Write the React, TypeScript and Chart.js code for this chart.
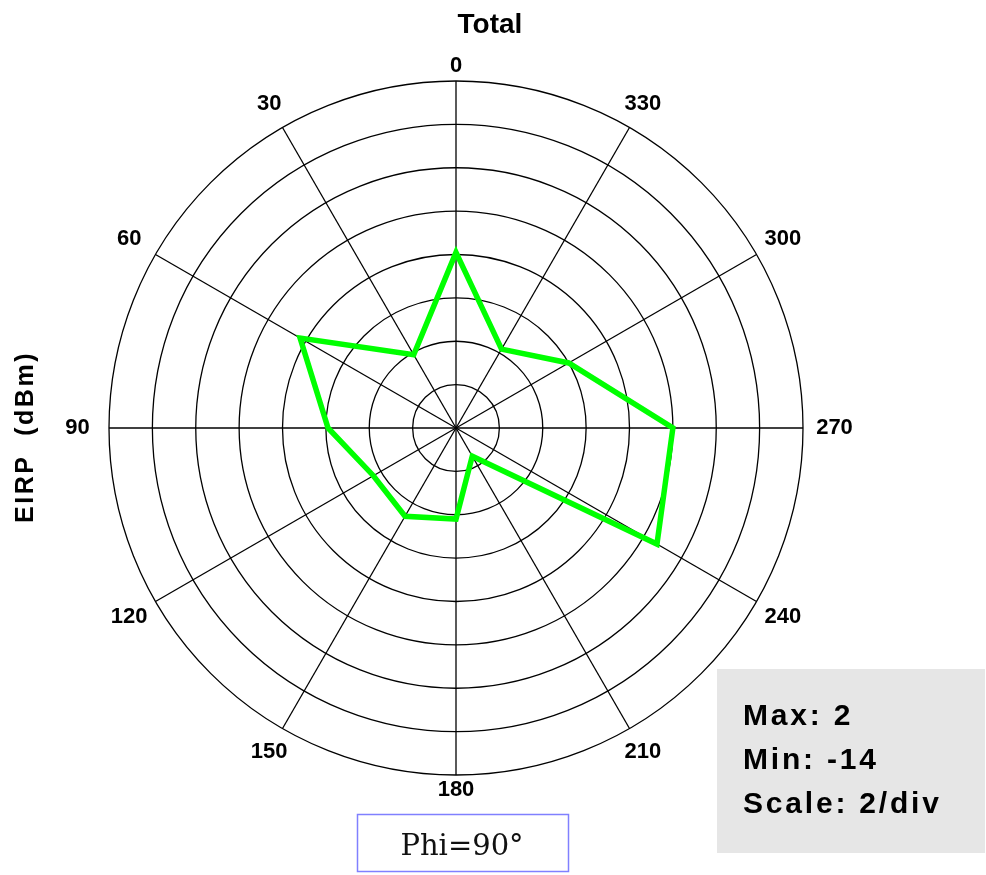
import { useEffect, useRef } from 'react';
import { Chart, registerables } from 'chart.js';

Chart.register(...registerables);

// Angles (degrees, counter-clockwise from top) and EIRP values (dBm)
const angleLabels = ['0', '30', '60', '90', '120', '150', '180', '210', '240', '270', '300', '330'];
const eirpValues = [-5.9, -10.1, -5.7, -8.1, -9.6, -9.3, -9.8, -12.5, -3.3, -4.0, -8.0, -9.8];

const scaleMin = -14;
const scaleMax = 2;
const scaleStep = 2;

const chartTitle = 'Total';
const axisTitle = 'EIRP  (dBm)';
const statLines = ['Max: 2', 'Min: -14', 'Scale: 2/div'];
const phiLabel = 'Phi=90°';

const SANS = '"Liberation Sans", Arial, sans-serif';

const overlayPlugin = {
  id: 'overlay',
  afterDraw(chart: any) {
    const ctx: CanvasRenderingContext2D = chart.ctx;
    const r = chart.scales.r;
    ctx.save();
    ctx.fillStyle = '#000';

    // angle labels around the circle
    ctx.font = `bold 22px ${SANS}`;
    ctx.textAlign = 'center';
    ctx.textBaseline = 'middle';
    (chart.data.labels as string[]).forEach((lbl, i) => {
      const a = r.getIndexAngle(i);
      const s = Math.abs(Math.sin(a));
      const p = r.getPointPosition(i, r.drawingArea + 15 + 16.5 * Math.sqrt(s));
      ctx.fillText(lbl, p.x, p.y);
    });

    // title
    ctx.textBaseline = 'alphabetic';
    ctx.font = `bold 28px ${SANS}`;
    ctx.fillText(chartTitle, 490, 33);

    // vertical axis title
    ctx.save();
    ctx.translate(33, 437);
    ctx.rotate(-Math.PI / 2);
    ctx.font = `bold 25px ${SANS}`;
    (ctx as any).letterSpacing = '2.5px';
    ctx.textAlign = 'center';
    ctx.fillText(axisTitle, 0, 0);
    ctx.restore();

    // stats box
    ctx.fillStyle = '#e6e6e6';
    ctx.fillRect(717, 669, 268, 184);
    ctx.fillStyle = '#000';
    ctx.font = `bold 30px ${SANS}`;
    (ctx as any).letterSpacing = '2.8px';
    ctx.textAlign = 'left';
    statLines.forEach((t, i) => ctx.fillText(t, 743, 725 + i * 44));
    (ctx as any).letterSpacing = '0px';

    // phi box
    ctx.strokeStyle = '#8080ff';
    ctx.lineWidth = 1.5;
    ctx.strokeRect(357.5, 814.5, 211, 57);
    ctx.font = '29px "DejaVu Serif", serif';
    ctx.textAlign = 'center';
    ctx.fillStyle = '#111';
    ctx.fillText(phiLabel, 462, 855);

    ctx.restore();
  },
};

export default function App() {
  const ref = useRef<HTMLCanvasElement>(null);

  useEffect(() => {
    const canvas = ref.current;
    if (!canvas) return;
    // radar draws clockwise from the top; the reference runs counter-clockwise
    const order = [0, ...angleLabels.map((_, i) => i).slice(1).reverse()];
    const chart = new Chart(canvas, {
      type: 'radar',
      data: {
        labels: order.map((i) => angleLabels[i]),
        datasets: [
          {
            data: order.map((i) => eirpValues[i]),
            borderColor: 'rgb(0,255,0)',
            borderWidth: 5.5,
            fill: false,
            pointRadius: 0,
            pointHoverRadius: 0,
            tension: 0,
            borderJoinStyle: 'miter',
          } as any,
        ],
      },
      options: {
        responsive: false,
        animation: false,
        events: [],
        layout: { padding: { left: 0, right: 74, top: 81, bottom: 100 } },
        plugins: {
          legend: { display: false },
          title: { display: false },
          tooltip: { enabled: false },
        },
        scales: {
          r: {
            min: scaleMin,
            max: scaleMax,
            startAngle: 0,
            ticks: { stepSize: scaleStep, display: false },
            grid: { color: '#000', lineWidth: 1.3, circular: true },
            angleLines: { color: '#000', lineWidth: 1.3 },
            pointLabels: { display: false },
          },
        },
      } as any,
      plugins: [overlayPlugin],
    });
    return () => chart.destroy();
  }, []);

  return (
    <div style={{ position: 'fixed', left: 0, top: 0, width: 986, height: 875, background: '#fff' }}>
      <canvas ref={ref} width={986} height={875} style={{ display: 'block' }} />
    </div>
  );
}
